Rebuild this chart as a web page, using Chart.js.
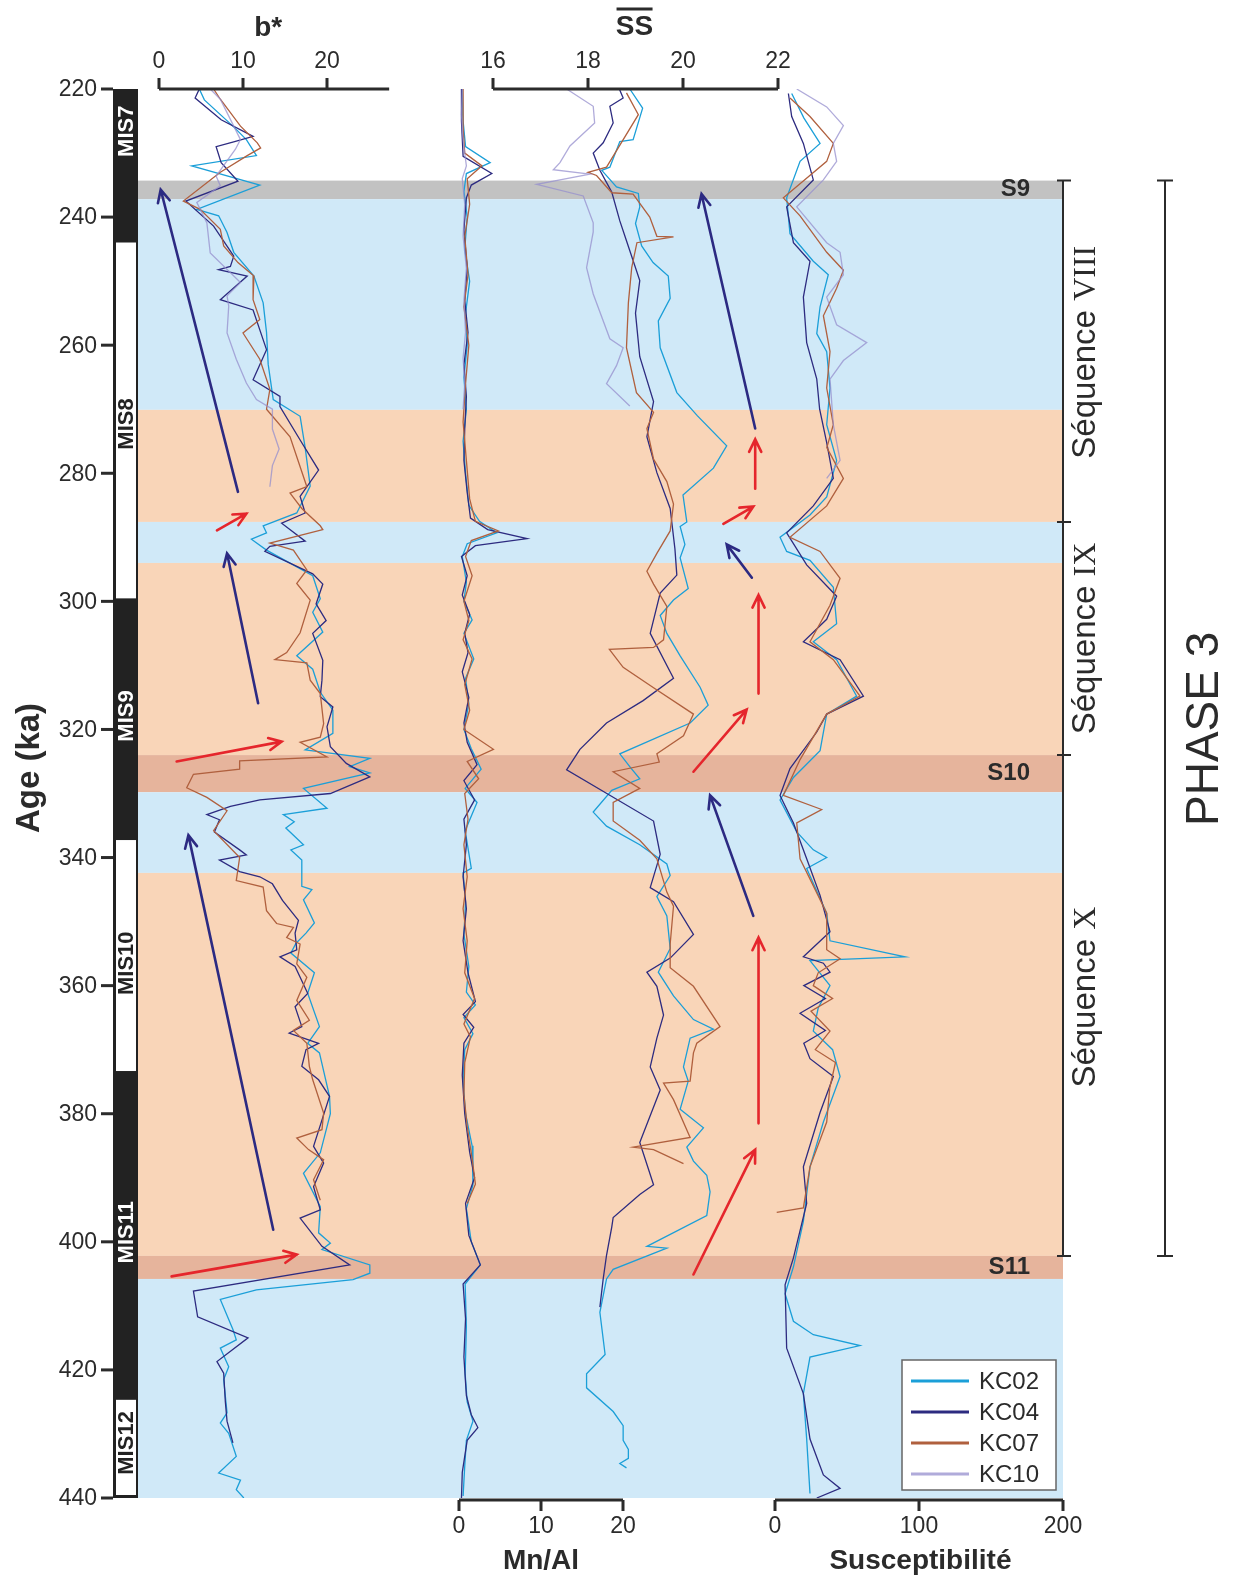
<!DOCTYPE html>
<html>
<head>
<meta charset="utf-8">
<script src="https://cdn.jsdelivr.net/npm/chart.js@4.4.1/dist/chart.umd.min.js"></script>
<style>
  body { margin: 0; background: #fff; }
  #wrap { position: relative; width: 1235px; height: 1577px; }
</style>
</head>
<body>
<div id="wrap"><canvas id="coreChart"></canvas></div>
<script>
// ---- Cores / legend
var coreNames = ['KC02', 'KC04', 'KC07', 'KC10'];
var coreColors = ['#1b9fd8', '#2d2b80', '#b0603e', 'rgba(150,143,206,0.75)'];

// ---- Tick labels
var yTicks = [220, 240, 260, 280, 300, 320, 340, 360, 380, 400, 420, 440];
var bTicks = [0, 10, 20];
var ssTicks = [16, 18, 20, 22];
var mnTicks = [0, 10, 20];
var susTicks = [0, 100, 200];

// ---- b* : [age, value]
var bKC02 = [[220,4.8],[221.7,5.4],[225.8,8.8],[227.9,10.4],[230.4,11.6],[232,3.9],[235,12.0],[238.8,4.5],[239.8,7.1],[242.4,8.1],[245.5,8.9],[249.2,11.3],[253.4,12.4],[258,12.8],[263,13.0],[268.5,13.6],[271.1,16.8],[276,17.4],[282,18.0],[286.2,16.4],[288.2,12.4],[289.3,12.8],[290.3,11.0],[292,12.8],[296,18.3],[299.6,19.2],[301.7,18.3],[304.8,19.5],[308.5,16.4],[310.6,18.3],[314.2,19.2],[317,20.7],[320.6,20.7],[323.2,17.4],[324.5,25.1],[325.8,22.7],[326.8,25.1],[329.2,17.2],[332.3,20.0],[333.3,14.8],[334.4,16.1],[335.4,15.1],[338,17.2],[338.8,15.7],[340.4,17.0],[344.5,17.0],[345,18.2],[346.6,17.2],[350.2,18.5],[351.8,17.5],[353.4,16.3],[354.9,15.7],[358,18.5],[361.2,17.7],[366.4,19.1],[369,17.7],[370.5,19.1],[377.3,20.3],[380,20.4],[386.1,19.2],[389.3,17.2],[394.5,19.2],[398.6,19.0],[400.2,20.4],[401.2,19.4],[403.6,25.1],[404.9,25.1],[405.9,23.1],[407.5,11.6],[409,7.3],[413.7,8.8],[415.3,9.2],[416.6,7.3],[419.5,8.3],[421.5,7.7],[426.7,8.1],[428.3,7.3],[429.9,8.3],[433.5,9.2],[436.1,7.1],[437.2,9.7],[438.7,9.2],[440,10.1]];
var bKC04 = [[220,4.8],[221.4,4.3],[224.8,7.4],[227.4,11.2],[228.2,9.0],[229,6.8],[231.5,7.4],[234.4,9.4],[237.5,3.2],[241.4,6.5],[246.1,8.9],[247.7,8.5],[248.2,7.1],[249.2,10.5],[252.9,7.3],[254.5,11.2],[260.7,12.8],[265.4,11.2],[268,14.4],[269.6,14.4],[274.8,16.8],[279.5,19.0],[283.6,16.8],[286.2,17.4],[287.8,14.6],[290.6,17.4],[291.4,13.2],[292.2,12.6],[295.7,18.3],[297.3,19.5],[300.4,18.7],[303,19.9],[305,18.3],[309.2,19.5],[312.3,19.4],[314.9,19.2],[316.5,20.7],[319.6,20.0],[322.7,20.4],[325.3,22.3],[327.4,25.1],[330,20.4],[331,12.0],[332,8.5],[333.3,5.7],[334.1,7.2],[336,6.6],[338.8,9.6],[339.6,10.4],[340.4,7.2],[342.2,9.6],[343,12.0],[344.1,13.5],[346.7,14.7],[349.8,16.6],[351.8,16.2],[354.4,16.4],[355.5,14.4],[357,16.2],[361.2,17.7],[363.3,16.2],[366.4,17.0],[367.4,15.5],[369,19.0],[370,17.5],[372.6,17.0],[374.7,19.0],[377.3,20.3],[385.1,18.4],[387.7,19.6],[391.4,18.4],[395,19.2],[396.3,16.8],[400.7,19.4],[403.6,22.7],[407.7,4.1],[411.7,4.6],[415,10.6],[418.7,6.9],[420.5,7.7],[425,7.9],[428,8.1],[431.4,8.8]];
var bKC07 = [[220,6.5],[221.6,7.3],[225.8,9.7],[228.4,11.7],[229.2,12.1],[230.4,10.5],[233,7.3],[237.5,2.9],[238.8,4.9],[241.9,7.3],[244.5,7.7],[247.1,9.4],[249.2,11.3],[252.9,11.2],[256,12.0],[258.1,10.0],[262.2,12.0],[266.9,13.2],[270,12.8],[274.3,15.6],[282.1,17.6],[283.1,15.6],[285.5,17.0],[288.2,19.2],[288.8,19.5],[290.9,13.2],[292,16.0],[295.1,17.6],[297.2,16.4],[299.8,18.0],[304.9,16.8],[308,15.2],[309.1,13.8],[309.6,17.6],[312.3,18.0],[314.4,19.2],[319.1,19.6],[321.2,19.2],[322,16.8],[324.3,20.0],[324.9,9.6],[326.2,9.6],[327,4.1],[329.1,3.3],[330.6,5.7],[332.7,8.1],[335.8,6.5],[340,9.6],[343.6,9.2],[344.6,12.4],[348.3,12.8],[350.3,14.0],[350.9,16.0],[352.5,15.2],[353.5,16.8],[356.6,16.4],[358.7,17.6],[362.3,16.4],[365.4,17.9],[367,16.0],[369,17.6],[372.6,17.9],[374.7,18.3],[379.9,19.6],[382.5,19.4],[383.8,16.4],[385.6,17.8],[387.2,19.6],[390.3,18.4],[393.5,19.2]];
var bKC10 = [[220,6.1],[221.6,7.3],[227.9,9.7],[229.4,9.1],[233.6,6.8],[235.1,7.3],[237.7,4.5],[240.9,5.7],[245.6,6.1],[250.2,9.7],[252.3,8.1],[253.9,8.3],[258.1,8.1],[262.2,9.2],[265.9,10.4],[268.5,11.6],[270,13.5],[273.1,13.5],[276.2,14.3],[278.8,13.5],[282.1,13.2]];

// ---- SS (mean grain size) : [age, value]
var ssKC02 = [[220,18.88],[223,19.15],[227.9,18.95],[228.2,18.67],[232.2,18.46],[232.7,18.29],[235.3,18.6],[236.3,19.06],[238.4,19.09],[241,19.0],[244.5,19.13],[247.1,19.37],[249.2,19.69],[252.7,19.73],[256.2,19.48],[260.4,19.52],[267.4,19.87],[271,20.3],[275.7,20.92],[279.2,20.64],[283.4,20.0],[287.6,20.08],[288.3,19.94],[291.1,20.04],[293.2,19.94],[298,20.11],[299.8,19.8],[302.2,19.52],[305,19.66],[308.5,19.94],[313.4,20.36],[316.2,20.53],[319,20.15],[323.8,18.67],[326,18.9],[327.7,19.09],[329.5,18.5],[332.9,18.11],[335.1,18.39],[338,19.09],[341,19.66],[342.8,19.73],[346.1,19.45],[349.1,19.66],[354.2,19.73],[357.9,19.48],[361.6,19.8],[365.3,20.22],[366.8,20.64],[368.2,20.15],[372.7,20.01],[374.9,20.11],[379.3,19.94],[382.2,20.43],[385.2,20.08],[387.4,20.22],[389.6,20.5],[392.2,20.57],[395.9,20.5],[400.7,19.24],[401,19.66],[404.3,18.53],[405.8,18.39],[411,18.25],[417.6,18.36],[420.6,17.97],[422.8,17.97],[426.5,18.53],[428.7,18.74],[431,18.74],[432.4,18.85],[433.8,18.85],[434.6,18.67],[435.3,18.81]];
var ssKC04 = [[220,18.66],[221.4,18.74],[222.7,18.46],[225.3,18.53],[228.4,18.32],[230,18.11],[232.7,18.25],[236.1,18.5],[240.6,18.67],[243.7,18.81],[249.9,19.09],[255,19.0],[261.8,19.09],[268.8,19.38],[274.3,19.24],[279.9,19.45],[285.5,19.73],[291.8,19.83],[295.9,19.87],[298.7,19.52],[305,19.31],[312,19.8],[315.5,19.16],[319,18.39],[323.1,17.83],[326.3,17.55],[334.3,19.38],[339.5,19.52],[344.7,19.31],[346.9,19.8],[352,20.22],[355.7,19.73],[357.9,19.24],[360.1,19.45],[364.6,19.59],[368.2,19.45],[372.7,19.31],[376.3,19.52],[384.5,19.09],[391.1,19.38],[392.6,19.09],[396.2,18.53],[397.7,18.5],[402.1,18.39],[405.8,18.32],[410.2,18.25]];
var ssKC07 = [[220.6,18.81],[224,19.06],[232.2,18.39],[233,18.0],[233.5,18.18],[236.2,18.5],[236.4,18.95],[240,19.3],[243,19.45],[243.1,19.8],[244,19.03],[247.9,18.92],[253.4,18.85],[260.4,18.81],[267.4,19.02],[270.5,19.38],[273,19.24],[277.8,19.38],[281.3,19.66],[284.8,19.8],[289,19.73],[292.5,19.45],[295.3,19.24],[297.3,19.38],[300.8,19.66],[306,19.59],[307.2,19.38],[307.5,18.45],[310.3,18.74],[313.5,19.38],[317.6,20.22],[321,20.01],[323.8,19.45],[325.1,19.5],[326.6,18.53],[329.2,19.09],[331.4,18.53],[334.3,18.53],[337.3,19.09],[340.2,19.45],[345.4,19.66],[347.6,19.8],[353.5,19.73],[357.2,19.73],[360.1,20.22],[366.4,20.78],[369,20.29],[370.5,20.22],[374.9,20.15],[375.2,19.59],[377.8,19.8],[383.7,20.15],[385.2,18.95],[385.6,19.38],[387.8,20.01]];
var ssKC10 = [[220,17.55],[222.7,18.11],[225.3,18.14],[228.9,17.62],[231.5,17.41],[232.6,17.27],[233.3,18.04],[234.9,16.92],[236.7,17.9],[240.9,18.11],[242.3,18.11],[247.9,17.97],[252,18.11],[259,18.46],[260.4,18.74],[263.2,18.6],[266,18.39],[269.5,18.88]];

// ---- Mn/Al : [age, value]
var mnKC02 = [[220,0.4],[225,0.5],[229,0.8],[231.5,3.8],[233.2,0.9],[236,0.6],[240,1.0],[245,0.7],[250,1.3],[255,0.8],[260,1.0],[265,0.6],[270,0.9],[275,0.5],[280,0.8],[285,1.2],[287.5,2.5],[289.3,4.6],[291,1.0],[293,0.4],[297,0.9],[300,0.6],[302.9,1.6],[305,0.6],[309,1.8],[312,0.8],[316,1.2],[320,0.6],[323,1.5],[326.2,2.7],[329.2,0.75],[331.4,2.2],[335.8,0.75],[341.7,1.5],[342.4,0.5],[347,0.8],[352,0.6],[357,1.2],[361,0.9],[363,2.0],[365,0.6],[367.5,1.7],[370,0.7],[375,0.5],[380,0.8],[385,1.6],[391.1,1.7],[394.8,0.9],[400,1.5],[403.6,2.6],[406.6,0.75],[413.2,0.9],[420.6,0.75],[425,1.0],[428,1.7],[431,0.9],[435,0.7],[439.7,0.5]];
var mnKC04 = [[220,0.3],[225,0.3],[230.5,0.5],[233.2,4.0],[235,1.5],[237,0.9],[242,0.6],[248,1.0],[253,0.7],[258,1.1],[263,0.6],[268,0.9],[273,0.7],[278,0.6],[283,1.0],[287,1.4],[288.8,3.5],[290.2,8.3],[291.3,2.0],[293,0.3],[296,1.0],[299,0.4],[302,1.3],[305,0.7],[308,1.1],[311,0.4],[315,1.2],[319,0.6],[322,1.0],[325.5,2.2],[328,0.6],[331,1.9],[334,0.6],[338,0.9],[343,0.5],[348,0.9],[353,0.5],[358,1.1],[362.5,2.0],[364.5,0.5],[366.5,1.8],[369,0.6],[374,0.4],[380,0.7],[386,1.3],[390,1.9],[394,0.8],[399,1.2],[403.6,2.6],[406.6,0.5],[412,0.8],[418,0.6],[424,0.9],[427,1.5],[429,2.3],[431,1.0],[436,0.4],[440,0.3]];
var mnKC07 = [[220,0.5],[226,0.5],[230,0.7],[232,2.8],[234,1.0],[238,1.3],[243,0.7],[249,1.1],[254,0.6],[260,1.2],[266,0.8],[272,0.5],[278,0.9],[284,1.3],[287.5,2.0],[289,4.8],[290.5,1.5],[293,0.8],[296,1.6],[300,0.6],[303,1.2],[306,0.5],[309,1.6],[313,0.7],[317,1.3],[320,0.6],[323.1,4.2],[325,1.0],[327.7,2.4],[330,0.7],[334,1.1],[338,0.6],[343,1.0],[348,0.5],[353,1.0],[358,0.7],[362,1.9],[366,0.6],[368,1.4],[372,0.7],[377,0.6],[382,1.0],[387,1.6],[391,2.0],[394,1.0]];
var mnKC10 = [[220,0.4],[224,0.3],[228,0.5],[232,0.9],[234,0.4],[238,0.7],[243,0.5],[248,0.9],[253,0.6],[258,0.8],[262,0.5],[266,0.7],[270,0.5]];

// ---- Susceptibilite : [age, value]
var susKC02 = [[220.7,11.6],[224.5,20],[228.5,31.3],[231.3,17.4],[237,8.1],[242.6,10.4],[246.9,26.6],[249,37],[254,31.3],[258.2,29],[261,35.9],[266.7,38.2],[272.4,35.9],[278,42.8],[283.7,35.9],[286.5,24.3],[290,3.5],[292.2,8.1],[293.6,24.3],[297.8,40.5],[303.5,42.8],[306.3,26.6],[309.1,42.8],[314.8,56.7],[317.6,35.9],[323.3,31.3],[327.5,12.8],[331,3.5],[336,15.1],[338.8,26.6],[340,35.9],[341.7,22],[348.7,35.9],[353,38.2],[355.5,90.3],[356.1,24.3],[360,38.2],[363.5,30],[367.1,26.6],[370,40],[374.2,45.2],[381.3,33.6],[388.3,24.3],[396.8,19.7],[403.9,12.8],[408.1,7],[412.4,12.8],[414.5,26.6],[416.2,59],[418,24.3],[423.7,19.7],[430.8,22],[439.3,24.3]];
var susKC04 = [[220.7,9.3],[224.3,11.6],[228.5,19.7],[234.2,26.6],[238.4,8.1],[244,12.8],[246.9,24.3],[252.5,19.7],[259.6,22],[265.3,29],[270,31],[275.2,35.9],[280.8,40.5],[285.1,26.6],[289.3,8.1],[294.3,22],[299.2,42.8],[302.8,35.9],[306.3,19.7],[309.1,45.2],[314.8,61.4],[317.6,35.9],[320.4,29],[326.1,10.4],[330.3,3.5],[334.6,12.8],[340.2,22],[345.9,31.3],[351.6,38.2],[355.5,19.7],[356.5,33.6],[357.9,38.2],[360,20],[362,35],[364.3,17.4],[367,35],[369,20],[371.4,24.3],[374.2,40.5],[379.8,31.3],[388.3,19.7],[394,22],[402.5,12.8],[406.7,7],[416.6,8.1],[423.7,19.7],[430.8,24.3],[436.4,33.6],[438.5,45.2],[440,29]];
var susKC07 = [[221.4,10.4],[224.3,24.3],[228.5,40.5],[231.3,35.9],[237,5.8],[239.8,17.4],[245.5,35.9],[248.3,47.5],[251.1,42.8],[255.4,33.6],[261,38.2],[266.7,35.9],[272.4,40.5],[276,36],[280.8,47.5],[285.1,35.9],[290,10.4],[292.2,31.3],[296.4,45.2],[300.6,38.2],[306.3,24.3],[309.1,40.5],[314.8,59],[317.6,35.9],[324.7,17.4],[330.3,5.8],[332.5,32.4],[334.6,15.1],[340.2,17.4],[348.7,35.9],[354.4,35.9],[355.8,45.2],[358,30],[360,26.6],[362,40],[364,25],[367.1,38.2],[370,28],[372,42],[376,38],[381.3,35.9],[388.3,24.3],[394.7,19.7],[395.4,1.2]];
var susKC10 = [[220,15.1],[222.8,35.9],[225.7,47.5],[228.5,40.5],[231.3,42.8],[234.2,33.6],[238.4,15.1],[244,35.9],[245.5,45.2],[249,47.5],[252.5,35.9],[256.8,42.8],[259.6,63.7],[262.4,47.5],[265.3,38.2],[272.4,40.5],[278,45.2],[280.8,35.9]];

// ---- Climatic bands : [from age, to age, kind]
var bands = [[234.3,237.2,'grey'],[237.2,270.1,'cold'],[270.1,287.6,'warm'],[287.6,294.0,'cold'],[294.0,324.0,'warm'],[324.0,329.8,'soil'],[329.8,342.4,'cold'],[342.4,402.2,'warm'],[402.2,405.8,'soil'],[405.8,440,'cold']];
var soilLabels = [['S9',235.7],['S10',326.9],['S11',404.0]];

// ---- MIS stages : [name, from, to, dark?, label age]
var misStages = [['MIS7',220,243.5,true,226.6],['MIS8',243.5,300,false,272.3],['MIS9',300,336.8,true,317.9],['MIS10',336.8,373.8,false,356.5],['MIS11',373.8,424.2,true,398.5],['MIS12',424.2,440,false,431.4]];

// ---- Sequences / phase
var seqBounds = [234.3, 287.6, 324.0, 402.2];
var seqLabels = [['Séquence ', 'VIII', 261.1], ['Séquence ', 'IX', 305.8], ['Séquence ', 'X', 361.8]];
var phaseSpan = [234.3, 402.2, 'PHASE 3', 319.9];

// ---- Trend arrows : [axis, value tail, age tail, value head, age head, colour]
var trendArrows = [
    ['xB', 9.4, 282.9, 0.2, 235.7, 'blue'],
    ['xB', 6.9, 288.9, 10.4, 286.3, 'red'],
    ['xB', 11.8, 315.9, 8.1, 292.5, 'blue'],
    ['xB', 2.1, 325.0, 14.6, 321.9, 'red'],
    ['xB', 13.6, 398.1, 3.5, 336.5, 'blue'],
    ['xB', 1.5, 405.4, 16.4, 402.0, 'red'],
    ['xS', 21.52, 273.0, 20.39, 236.4, 'blue'],
    ['xS', 21.52, 282.4, 21.52, 274.7, 'red'],
    ['xS', 20.85, 287.9, 21.48, 285.2, 'red'],
    ['xS', 21.45, 296.3, 20.92, 291.1, 'blue'],
    ['xS', 21.59, 314.4, 21.59, 299.0, 'red'],
    ['xS', 20.22, 326.6, 21.34, 316.9, 'red'],
    ['xS', 21.48, 349.1, 20.57, 330.3, 'blue'],
    ['xS', 21.59, 381.5, 21.59, 352.5, 'red'],
    ['xS', 20.22, 405.1, 21.52, 385.6, 'red']
];

var FONT = '"Liberation Sans", Arial, sans-serif';
var SERIF = '"Liberation Serif", "Times New Roman", serif';
var INK = '#2b2b2b';
var bandColors = { grey: '#c2c2c2', cold: '#d0e9f8', warm: '#f9d5b8', soil: '#e6b49c' };
var arrowColors = { blue: '#2c2a82', red: '#e5262c' };

// plot frame (px) and axis anchors: pixel of a reference value + px per unit
var AREA = { left: 138, right: 1063, top: 89, bottom: 1498 };

/**
 * Min / max of a hidden x scale so that value v0 lands on pixel px0
 */
function axisRange(px0, v0, pxPerUnit) {
    return {
        min: v0 + (AREA.left - px0) / pxPerUnit,
        max: v0 + (AREA.right - px0) / pxPerUnit
    };
}
var rangeB = axisRange(159, 0, 8.4);
var rangeS = axisRange(493, 16, 47.5);
var rangeM = axisRange(459, 0, 8.2);
var rangeK = axisRange(775, 0, 1.44);

/**
 * One core profile as a line dataset
 */
function profile(pts, axis, core) {
    return {
        label: coreNames[core],
        data: pts.map(function (p) { return { x: p[1], y: p[0] }; }),
        xAxisID: axis,
        yAxisID: 'y',
        borderColor: coreColors[core],
        borderWidth: 1.3,
        showLine: true,
        pointRadius: 0,
        pointHoverRadius: 0,
        fill: false,
        tension: 0
    };
}

// draw lavender first so the others sit on top
var datasets = [
    profile(bKC10, 'xB', 3), profile(ssKC10, 'xS', 3), profile(mnKC10, 'xM', 3), profile(susKC10, 'xK', 3),
    profile(bKC07, 'xB', 2), profile(ssKC07, 'xS', 2), profile(mnKC07, 'xM', 2), profile(susKC07, 'xK', 2),
    profile(bKC04, 'xB', 1), profile(ssKC04, 'xS', 1), profile(mnKC04, 'xM', 1), profile(susKC04, 'xK', 1),
    profile(bKC02, 'xB', 0), profile(ssKC02, 'xS', 0), profile(mnKC02, 'xM', 0), profile(susKC02, 'xK', 0)
];

function vText(ctx, txt, x, y, font, color) {
    ctx.save();
    ctx.translate(x, y);
    ctx.rotate(-Math.PI / 2);
    ctx.font = font;
    ctx.fillStyle = color;
    ctx.textAlign = 'center';
    ctx.textBaseline = 'middle';
    ctx.fillText(txt, 0, 0);
    ctx.restore();
}

function arrow(ctx, x1, y1, x2, y2, color) {
    var ang = Math.atan2(y2 - y1, x2 - x1);
    var head = 14, spread = 0.45;
    ctx.save();
    ctx.strokeStyle = color;
    ctx.lineWidth = 2.6;
    ctx.lineCap = 'round';
    ctx.beginPath();
    ctx.moveTo(x1, y1);
    ctx.lineTo(x2, y2);
    ctx.moveTo(x2 - head * Math.cos(ang - spread), y2 - head * Math.sin(ang - spread));
    ctx.lineTo(x2, y2);
    ctx.lineTo(x2 - head * Math.cos(ang + spread), y2 - head * Math.sin(ang + spread));
    ctx.stroke();
    ctx.restore();
}

/**
 * Partial horizontal axis (top or bottom), drawn from a hidden scale
 */
function hAxis(ctx, scale, ticks, end, yPix, dir) {
    ctx.save();
    ctx.strokeStyle = INK;
    ctx.lineWidth = 3;
    ctx.beginPath();
    ctx.moveTo(scale.getPixelForValue(ticks[0]), yPix);
    ctx.lineTo(scale.getPixelForValue(end), yPix);
    ticks.forEach(function (t) {
        var x = scale.getPixelForValue(t);
        ctx.moveTo(x, yPix);
        ctx.lineTo(x, yPix + dir * 11);
    });
    ctx.stroke();
    ctx.font = '23px ' + FONT;
    ctx.fillStyle = INK;
    ctx.textAlign = 'center';
    ctx.textBaseline = 'middle';
    ticks.forEach(function (t) {
        ctx.fillText(String(t), scale.getPixelForValue(t), yPix + dir * 27);
    });
    ctx.restore();
}

var backdrop = {
    id: 'backdrop',
    beforeDatasetsDraw: function (chart) {
        var ctx = chart.ctx, a = chart.chartArea, y = chart.scales.y;
        ctx.save();
        bands.forEach(function (b) {
            var y0 = y.getPixelForValue(b[0]);
            var y1 = y.getPixelForValue(b[1]);
            ctx.fillStyle = bandColors[b[2]];
            ctx.fillRect(a.left, y0, a.right - a.left, y1 - y0);
        });
        ctx.restore();
    }
};

var overlay = {
    id: 'overlay',
    afterDraw: function (chart) {
        var ctx = chart.ctx, a = chart.chartArea, s = chart.scales, y = s.y;

        // MIS column
        var colL = 113, colR = a.left;
        ctx.save();
        ctx.fillStyle = '#222';
        ctx.fillRect(colL, a.top, colR - colL, a.bottom - a.top);
        misStages.forEach(function (m) {
            var y0 = y.getPixelForValue(m[1]), y1 = y.getPixelForValue(m[2]);
            if (!m[3]) {
                ctx.fillStyle = '#fff';
                ctx.fillRect(colL + 3, y0 + 3, colR - colL - 5, y1 - y0 - 6);
            }
            vText(ctx, m[0], (colL + colR) / 2 + 1, y.getPixelForValue(m[4]), 'bold 22px ' + FONT, m[3] ? '#fff' : '#222');
        });

        // Age ticks
        ctx.strokeStyle = INK;
        ctx.lineWidth = 3;
        ctx.font = '23px ' + FONT;
        ctx.fillStyle = INK;
        ctx.textAlign = 'right';
        ctx.textBaseline = 'middle';
        yTicks.forEach(function (t) {
            var py = y.getPixelForValue(t);
            ctx.beginPath();
            ctx.moveTo(101, py);
            ctx.lineTo(colL, py);
            ctx.stroke();
            ctx.fillText(String(t), 97, py + 1);
        });
        ctx.restore();
        vText(ctx, 'Age (ka)', 30, 768, 'bold 33px ' + FONT, INK);

        // top axes
        hAxis(ctx, s.xB, bTicks, 27.4, a.top, -1);
        hAxis(ctx, s.xS, ssTicks, 22, a.top, -1);
        ctx.save();
        ctx.font = 'bold 28px ' + FONT;
        ctx.fillStyle = INK;
        ctx.textAlign = 'center';
        ctx.textBaseline = 'middle';
        ctx.fillText('b*', s.xB.getPixelForValue(13), 28);
        var ssX = s.xS.getPixelForValue(18.98);
        ctx.fillText('SS', ssX, 27);
        ctx.strokeStyle = INK;
        ctx.lineWidth = 3;
        ctx.beginPath();
        ctx.moveTo(ssX - 18, 9);
        ctx.lineTo(ssX + 18, 9);
        ctx.stroke();
        ctx.restore();

        // bottom axes
        hAxis(ctx, s.xM, mnTicks, 20, a.bottom + 2, 1);
        hAxis(ctx, s.xK, susTicks, 200, a.bottom + 2, 1);
        ctx.save();
        ctx.font = 'bold 28px ' + FONT;
        ctx.fillStyle = INK;
        ctx.textAlign = 'center';
        ctx.textBaseline = 'middle';
        ctx.fillText('Mn/Al', s.xM.getPixelForValue(10), 1561);
        ctx.fillText('Susceptibilité', s.xK.getPixelForValue(101), 1561);
        ctx.restore();

        // trend arrows
        trendArrows.forEach(function (t) {
            var sc = s[t[0]];
            arrow(ctx, sc.getPixelForValue(t[1]), y.getPixelForValue(t[2]),
                sc.getPixelForValue(t[3]), y.getPixelForValue(t[4]), arrowColors[t[5]]);
        });

        // soil labels
        ctx.save();
        ctx.font = 'bold 24px ' + FONT;
        ctx.fillStyle = INK;
        ctx.textAlign = 'right';
        ctx.textBaseline = 'middle';
        soilLabels.forEach(function (l) {
            ctx.fillText(l[0], 1030, y.getPixelForValue(l[1]));
        });
        ctx.restore();

        // sequence bracket
        ctx.save();
        ctx.strokeStyle = INK;
        ctx.lineWidth = 2;
        ctx.beginPath();
        ctx.moveTo(a.right, y.getPixelForValue(seqBounds[0]));
        ctx.lineTo(a.right, y.getPixelForValue(seqBounds[seqBounds.length - 1]));
        seqBounds.forEach(function (b) {
            var py = y.getPixelForValue(b);
            ctx.moveTo(a.right - 6, py);
            ctx.lineTo(a.right + 8, py);
        });
        // phase bracket
        var px = 1165;
        ctx.moveTo(px, y.getPixelForValue(phaseSpan[0]));
        ctx.lineTo(px, y.getPixelForValue(phaseSpan[1]));
        [phaseSpan[0], phaseSpan[1]].forEach(function (b) {
            var py = y.getPixelForValue(b);
            ctx.moveTo(px - 8, py);
            ctx.lineTo(px + 8, py);
        });
        ctx.stroke();
        ctx.restore();

        seqLabels.forEach(function (l) {
            var cy = y.getPixelForValue(l[2]);
            ctx.save();
            ctx.translate(1086, cy);
            ctx.rotate(-Math.PI / 2);
            ctx.fillStyle = INK;
            ctx.textBaseline = 'middle';
            ctx.textAlign = 'left';
            var f1 = '33px ' + FONT, f2 = '32px ' + SERIF;
            ctx.font = f1;
            var w1 = ctx.measureText(l[0]).width;
            ctx.font = f2;
            var w2 = ctx.measureText(l[1]).width;
            var x0 = -(w1 + w2) / 2;
            ctx.font = f1;
            ctx.fillText(l[0], x0, 0);
            ctx.font = f2;
            ctx.fillText(l[1], x0 + w1, 1);
            ctx.restore();
        });
        vText(ctx, phaseSpan[2], 1205, y.getPixelForValue(phaseSpan[3]), '46px ' + FONT, INK);

        // legend
        ctx.save();
        var lx = 902, ly = 1360, lw = 154, lh = 130;
        ctx.fillStyle = '#fff';
        ctx.fillRect(lx, ly, lw, lh);
        ctx.strokeStyle = '#666';
        ctx.lineWidth = 1.5;
        ctx.strokeRect(lx, ly, lw, lh);
        ctx.font = '24px ' + FONT;
        ctx.textAlign = 'left';
        ctx.textBaseline = 'middle';
        coreNames.forEach(function (n, i) {
            var ry = ly + 21 + i * 31;
            ctx.strokeStyle = coreColors[i];
            ctx.lineWidth = 3;
            ctx.beginPath();
            ctx.moveTo(lx + 9, ry);
            ctx.lineTo(lx + 67, ry);
            ctx.stroke();
            ctx.fillStyle = INK;
            ctx.fillText(n, lx + 77, ry + 1);
        });
        ctx.restore();
    }
};

var coreChart = new Chart(document.getElementById('coreChart'), {
    type: 'scatter',
    data: { datasets: datasets },
    options: {
        responsive: true,
        maintainAspectRatio: false,
        animation: false,
        layout: {
            padding: { left: AREA.left, right: 1235 - AREA.right, top: AREA.top, bottom: 1577 - AREA.bottom }
        },
        plugins: {
            legend: { display: false },
            tooltip: { enabled: false }
        },
        scales: {
            x: { display: false },
            y: { type: 'linear', min: 220, max: 440, reverse: true, display: false },
            xB: { type: 'linear', axis: 'x', min: rangeB.min, max: rangeB.max, display: false },
            xS: { type: 'linear', axis: 'x', min: rangeS.min, max: rangeS.max, display: false },
            xM: { type: 'linear', axis: 'x', min: rangeM.min, max: rangeM.max, display: false },
            xK: { type: 'linear', axis: 'x', min: rangeK.min, max: rangeK.max, display: false }
        }
    },
    plugins: [backdrop, overlay]
});
</script>
</body>
</html>
